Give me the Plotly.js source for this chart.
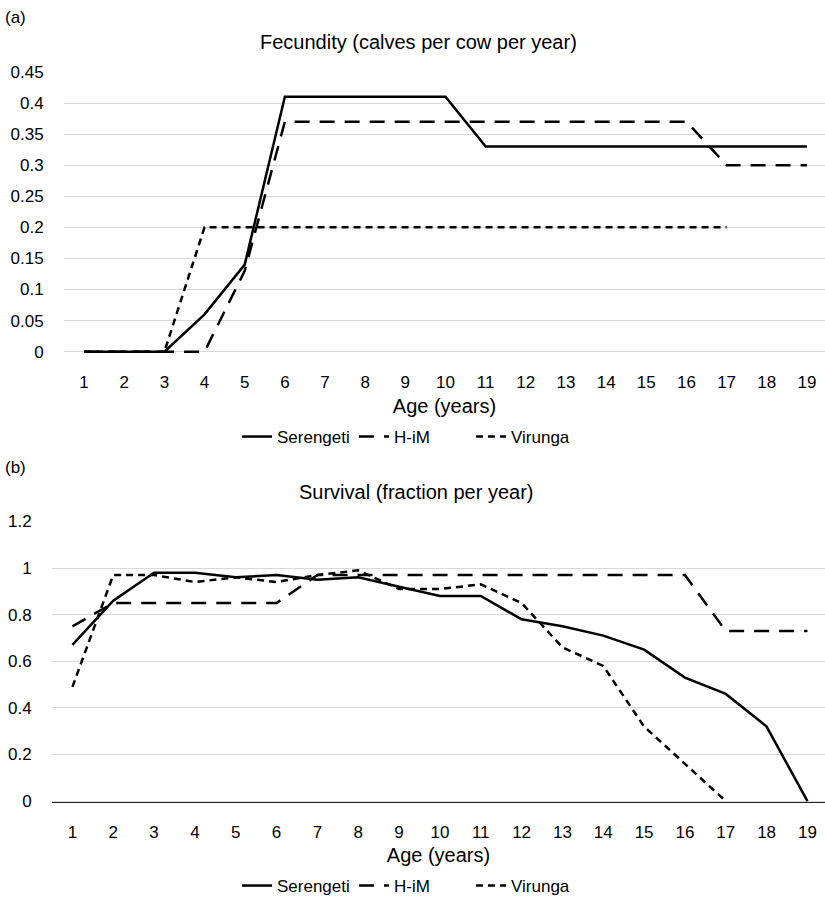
<!DOCTYPE html>
<html>
<head>
<meta charset="utf-8">
<script src="https://cdn.plot.ly/plotly-3.0.1.min.js"></script>
<style>html,body{margin:0;padding:0;background:#fff}</style>
</head>
<body>
<div id="chart" style="width:825px;height:904px"></div>
<script>
// Ages (x categories)
const ages = [1,2,3,4,5,6,7,8,9,10,11,12,13,14,15,16,17,18,19];
const virungaAges = [1,2,3,4,5,6,7,8,9,10,11,12,13,14,15,16,17];

// (a) Fecundity (calves per cow per year)
const fecSerengeti = [0,0,0,0.06,0.14,0.41,0.41,0.41,0.41,0.41,0.33,0.33,0.33,0.33,0.33,0.33,0.33,0.33,0.33];
const fecHiM       = [0,0,0,0,0.13,0.37,0.37,0.37,0.37,0.37,0.37,0.37,0.37,0.37,0.37,0.37,0.30,0.30,0.30];
const fecVirunga   = [0,0,0,0.2,0.2,0.2,0.2,0.2,0.2,0.2,0.2,0.2,0.2,0.2,0.2,0.2,0.2];

// (b) Survival (fraction per year)
const survSerengeti = [0.67,0.86,0.98,0.98,0.96,0.97,0.95,0.96,0.92,0.88,0.88,0.78,0.75,0.71,0.65,0.53,0.46,0.32,0];
const survHiM       = [0.75,0.85,0.85,0.85,0.85,0.85,0.97,0.97,0.97,0.97,0.97,0.97,0.97,0.97,0.97,0.97,0.73,0.73,0.73];
const survVirunga   = [0.49,0.97,0.97,0.94,0.96,0.94,0.97,0.99,0.91,0.91,0.93,0.85,0.66,0.58,0.32,0.16,0];

const seriesNames = ['Serengeti','H-iM','Virunga'];
const dashes = ['solid','15px,10px','7px,5px'];
const FONT = 'Liberation Sans, Arial, Helvetica, sans-serif';
const LW = 2.5;

function tr(x, y, i, ax, leg) {
  return {
    type: 'scatter', mode: 'lines', x: x, y: y, name: seriesNames[i],
    xaxis: ax[0], yaxis: ax[1], legend: leg,
    line: {color: '#000', width: LW, dash: dashes[i]},
    hoverinfo: 'x+y+name'
  };
}

const data = [
  tr(ages, fecSerengeti, 0, ['x','y'], 'legend'),
  tr(ages, fecHiM, 1, ['x','y'], 'legend'),
  tr(virungaAges, fecVirunga, 2, ['x','y'], 'legend'),
  tr(ages, survSerengeti, 0, ['x2','y2'], 'legend2'),
  tr(ages, survHiM, 1, ['x2','y2'], 'legend2'),
  tr(virungaAges, survVirunga, 2, ['x2','y2'], 'legend2')
];

const H = 904;
const tickFont = {family: FONT, size: 17, color: '#000'};
const axTitleFont = {family: FONT, size: 20, color: '#000'};
const legendFont = {family: FONT, size: 17, color: '#000'};

const layout = {
  width: 825, height: H,
  margin: {l: 0, r: 0, t: 0, b: 0},
  paper_bgcolor: '#fff', plot_bgcolor: '#fff',
  font: {family: FONT, color: '#000'},
  xaxis: {
    domain: [64/825, 1], anchor: 'y', range: [0.5, 19.45],
    tickvals: ages, showgrid: false, zeroline: false, showline: false,
    ticks: 'outside', ticklen: 14, tickcolor: 'rgba(0,0,0,0)',
    tickfont: tickFont,
    title: {text: 'Age (years)', font: axTitleFont, standoff: 7}
  },
  yaxis: {
    domain: [1 - 353.3/H, 1 - 72/H], anchor: 'x', range: [-0.002, 0.45],
    dtick: 0.05, tick0: 0, showgrid: true, gridcolor: '#d9d9d9', gridwidth: 1,
    zeroline: true, zerolinecolor: '#d9d9d9', zerolinewidth: 1, showline: false,
    ticks: 'outside', ticklen: 16, tickcolor: 'rgba(0,0,0,0)',
    tickfont: tickFont
  },
  xaxis2: {
    domain: [52/825, 1], anchor: 'y2', range: [0.5, 19.43],
    tickvals: ages, showgrid: false, zeroline: false,
    showline: true, linecolor: '#222', linewidth: 1.3,
    ticks: 'outside', ticklen: 14, tickcolor: 'rgba(0,0,0,0)',
    tickfont: tickFont,
    title: {text: 'Age (years)', font: axTitleFont, standoff: 7}
  },
  yaxis2: {
    domain: [1 - 803.2/H, 1 - 522/H], anchor: 'x2', range: [-0.005, 1.2],
    dtick: 0.2, tick0: 0, showgrid: true, gridcolor: '#d9d9d9', gridwidth: 1,
    zeroline: false, showline: false,
    ticks: 'outside', ticklen: 16, tickcolor: 'rgba(0,0,0,0)',
    tickfont: tickFont
  },
  legend: {
    orientation: 'h', x: 0.5, xanchor: 'center', y: 1 - 437/H, yanchor: 'middle',
    font: legendFont, bgcolor: 'rgba(0,0,0,0)',
    traceorder: 'normal', itemwidth: 30, entrywidth: 72, entrywidthmode: 'pixels'
  },
  legend2: {
    orientation: 'h', x: 0.5, xanchor: 'center', y: 1 - 887/H, yanchor: 'middle',
    font: legendFont, bgcolor: 'rgba(0,0,0,0)',
    traceorder: 'normal', itemwidth: 30, entrywidth: 72, entrywidthmode: 'pixels'
  },
  annotations: [
    {text: '(a)', xref: 'paper', yref: 'paper', x: 3/825, xanchor: 'left', y: 1 - 18/H, yanchor: 'middle', showarrow: false, font: {family: FONT, size: 17, color: '#000'}},
    {text: '(b)', xref: 'paper', yref: 'paper', x: 3/825, xanchor: 'left', y: 1 - 468/H, yanchor: 'middle', showarrow: false, font: {family: FONT, size: 17, color: '#000'}},
    {text: 'Fecundity (calves per cow per year)', xref: 'paper', yref: 'paper', x: 418/825, xanchor: 'center', y: 1 - 42/H, yanchor: 'middle', showarrow: false, font: {family: FONT, size: 20, color: '#000'}},
    {text: 'Survival (fraction per year)', xref: 'paper', yref: 'paper', x: 416/825, xanchor: 'center', y: 1 - 493/H, yanchor: 'middle', showarrow: false, font: {family: FONT, size: 20, color: '#000'}}
  ],
  showlegend: true
};

Plotly.newPlot('chart', data, layout, {displayModeBar: false, responsive: false});
</script>
</body>
</html>
